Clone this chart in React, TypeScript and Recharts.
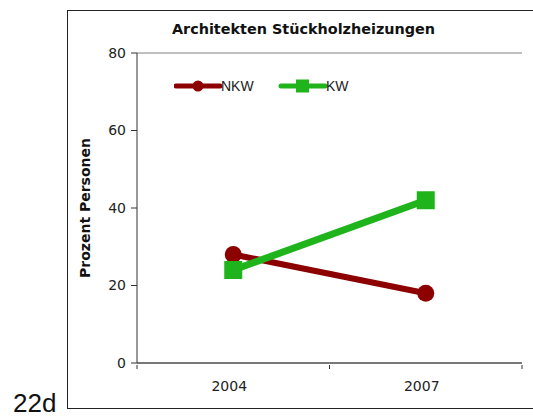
import React from 'react'
import { LineChart, Line, XAxis, YAxis, CartesianGrid, Legend } from 'recharts'

const years = ['2004', '2007']
const nkw = [28, 18]
const kw = [24, 42]
const yTicks = [0, 20, 40, 60, 80]
const seriesOrder = ['NKW', 'KW']

const data = years.map((year, i) => ({ year, NKW: nkw[i], KW: kw[i] }))

const RED = '#8c0000'
const GREEN = '#20b41c'
const HALF_BAND = 96.25

const XTick = (props: any) => {
  const { x, y, payload } = props
  return (
    <g>
      <line x1={x - HALF_BAND} x2={x - HALF_BAND} y1={y - 6} y2={y - 2} stroke="#333" />
      <line x1={x + HALF_BAND} x2={x + HALF_BAND} y1={y - 6} y2={y - 2} stroke="#333" />
      <text x={x - 4} y={y + 20} textAnchor="middle" fontSize={14} fill="#222" fontFamily="DejaVu Sans">
        {payload.value}
      </text>
    </g>
  )
}

const LegendContent = (props: any) => {
  const items = [...(props.payload || [])].sort(
    (a: any, b: any) => seriesOrder.indexOf(a.value) - seriesOrder.indexOf(b.value)
  )
  return (
    <svg width={200} height={20}>
      {items.map((p: any, i: number) => {
        const x0 = i * 105
        return (
          <g key={p.value}>
            <line x1={x0 + 2} x2={x0 + 46} y1={10} y2={10} stroke={p.color} strokeWidth={5} strokeLinecap="round" />
            {p.value === 'NKW' ? (
              <circle cx={x0 + 24} cy={10} r={5.5} fill={p.color} />
            ) : (
              <rect x={x0 + 17} y={3.5} width={13} height={13} fill={p.color} />
            )}
            <text x={x0 + 47} y={15} fontSize={14} fontFamily="Liberation Sans" fill="#222">
              {p.value}
            </text>
          </g>
        )
      })}
    </svg>
  )
}

const CircleDot = (props: any) => {
  const { cx, cy } = props
  return <circle cx={cx} cy={cy} r={8.5} fill={RED} />
}

const SquareDot = (props: any) => {
  const { cx, cy } = props
  return <rect x={cx - 9} y={cy - 9} width={18} height={18} fill={GREEN} />
}

export default function App() {
  return (
    <div style={{ position: 'absolute', left: 0, top: 0, width: 533, height: 420, overflow: 'hidden', background: '#fff' }}>
      <div style={{ position: 'absolute', left: 67, top: 10, width: 520, height: 397, border: '1.5px solid #222' }} />
      <div
        style={{
          position: 'absolute', left: 67, width: 473, top: 21, textAlign: 'center',
          fontFamily: 'DejaVu Sans', fontWeight: 'bold', fontSize: 14.4, color: '#111',
        }}
      >
        Architekten Stückholzheizungen
      </div>
      <div style={{ position: 'absolute', left: 13, top: 388, fontFamily: 'Liberation Sans', fontSize: 26, color: '#111' }}>22d</div>
      <div style={{ position: 'absolute', left: 0, top: 0 }}>
        <LineChart width={533} height={420} data={data} margin={{ top: 53, right: 11, bottom: 27, left: 97 }}>
          <CartesianGrid vertical={false} stroke="#808080" />
          <XAxis
            dataKey="year"
            scale="band"
            tickLine={false}
            axisLine={{ stroke: '#333' }}
            tick={<XTick />}
            height={30}
            interval={0}
          />
          <YAxis
            yAxisId="left"
            domain={[0, 80]}
            ticks={yTicks}
            width={40}
            tickSize={6}
            tickMargin={5}
            axisLine={{ stroke: '#333' }}
            tickLine={{ stroke: '#333' }}
            tick={{ fontSize: 14, fill: '#222', fontFamily: 'DejaVu Sans' }}
            label={{
              value: 'Prozent Personen', angle: -90, position: 'insideLeft', offset: -12,
              style: { fontSize: 14, fontWeight: 'bold', fontFamily: 'DejaVu Sans', fill: '#111', textAnchor: 'middle' },
            }}
          />
          <YAxis yAxisId="right" orientation="right" width={0} domain={[0, 80]} tick={false} axisLine={{ stroke: '#909090' }} tickLine={false} />
          <Legend
            content={<LegendContent />}
            layout="horizontal"
            verticalAlign="middle"
            align="center"
            wrapperStyle={{ position: 'absolute', left: 174, top: 76, width: 200 }}
          />
          <Line
            yAxisId="left"
            dataKey="NKW"
            stroke={RED}
            strokeWidth={6}
            dot={<CircleDot />}
            activeDot={false}
            isAnimationActive={false}
          />
          <Line
            yAxisId="left"
            dataKey="KW"
            stroke={GREEN}
            strokeWidth={7}
            dot={<SquareDot />}
            activeDot={false}
            isAnimationActive={false}
          />
        </LineChart>
      </div>
    </div>
  )
}
